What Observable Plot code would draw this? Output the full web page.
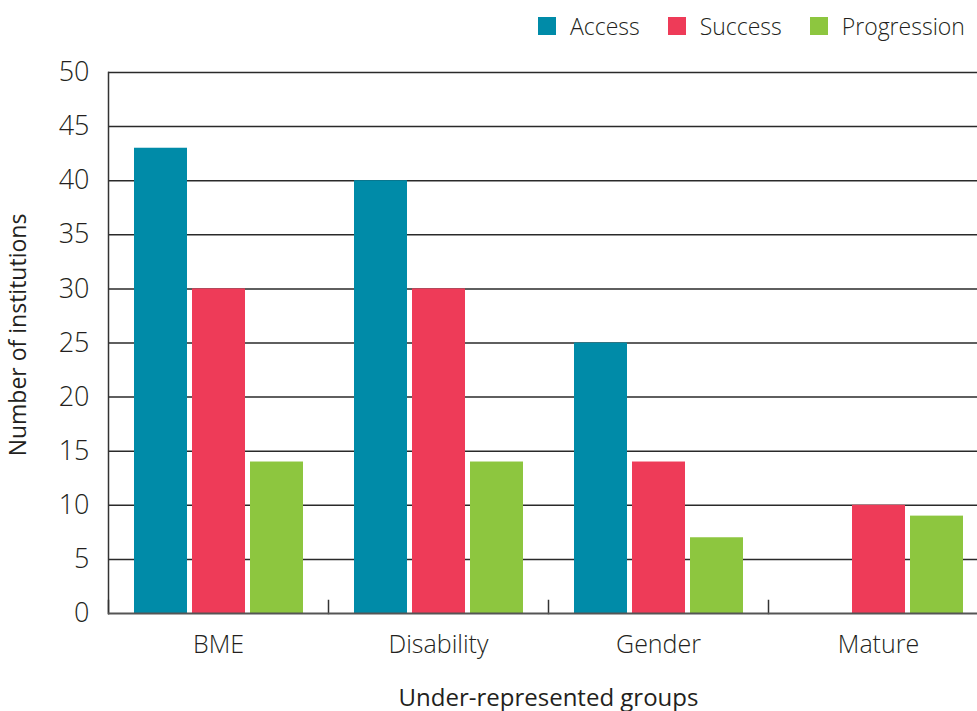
<!DOCTYPE html>
<html><head><meta charset="utf-8">
<script src="https://cdn.jsdelivr.net/npm/d3@7"></script>
<script src="https://cdn.jsdelivr.net/npm/@observablehq/plot@0.6"></script>
<style>
body{margin:0;background:#fff;}
#chart{position:relative;width:977px;height:711px;overflow:hidden;font-family:"Open Sans",sans-serif;background:#fff;}
#legend{position:absolute;top:10px;left:538px;width:439px;white-space:nowrap;}
div.lg-swatches{font-family:"Open Sans",sans-serif;font-size:23px;font-weight:300;color:#231f20;min-height:0;margin:0;flex-wrap:nowrap;}
div.lg-swatches .lg-swatch{margin-right:28px;}
div.lg-swatches .lg-swatch svg{margin-right:14px;}
[aria-label="fx-axis label"]{font-weight:400;}
</style></head><body><div id="chart"><div id="legend"></div></div>
<script>
const groups = ["BME", "Disability", "Gender", "Mature"];
const series = ["Access", "Success", "Progression"];
const access = [43, 40, 25, 0];
const success = [30, 30, 14, 10];
const progression = [14, 14, 7, 9];
const colors = ["#008ba8", "#ee3b58", "#8dc63f"];
const yTicks = [0, 5, 10, 15, 20, 25, 30, 35, 40, 45, 50];
const yTitle = "Number of institutions";
const xTitle = "Under-represented groups";

const values = {Access: access, Success: success, Progression: progression};
const data = groups.flatMap((g, i) => series.map(s => ({group: g, series: s, value: values[s][i]})));

const chart = Plot.plot({
  width: 977, height: 711,
  marginLeft: 108, marginRight: -11, marginTop: 72, marginBottom: 98,
  style: {fontFamily: "'Open Sans', sans-serif", fontSize: "24px", color: "#231f20", background: "white", overflow: "hidden"},
  fx: {domain: groups, padding: 0, label: null},
  x: {domain: series, paddingInner: 0.094, paddingOuter: 0.43, axis: null},
  y: {domain: [0, 50], label: null, axis: null},
  color: {domain: series, range: colors},
  marks: [
    Plot.ruleY(yTicks.filter(d => d > 0), {stroke: "#2a2a2a", strokeWidth: 1.5}),
    Plot.frame({anchor: "left", stroke: "#333", strokeWidth: 1.5, insetTop: 528}),
    Plot.frame({anchor: "left", stroke: "#333", strokeWidth: 1.5, facetAnchor: "left"}),
    Plot.barY(data, {fx: "group", x: "series", y: "value", fill: "series"}),
    Plot.ruleY([0], {stroke: "#555", strokeWidth: 2}),
    Plot.axisY({ticks: yTicks, tickSize: 0, tickPadding: 19, label: null, fontSize: 27, fontWeight: 300}),
    Plot.text([yTitle], {frameAnchor: "left", textAnchor: "middle", rotate: -90, dx: -90, dy: -8, fontSize: 23, fontWeight: 400, facetAnchor: "left"}),
    Plot.axisFx({anchor: "bottom", tickSize: 0, tickPadding: 22, fontSize: 25, fontWeight: 300, label: xTitle, labelAnchor: "center", labelOffset: 92})
  ]
});
document.getElementById("chart").appendChild(chart);
const lab = chart.querySelector('[aria-label="fx-axis label"]');
if (lab) lab.setAttribute("font-size", 24);

const legend = Plot.legend({color: {domain: series, range: colors}, swatchSize: 18, className: "lg"});
document.getElementById("legend").appendChild(legend);
</script></body></html>
